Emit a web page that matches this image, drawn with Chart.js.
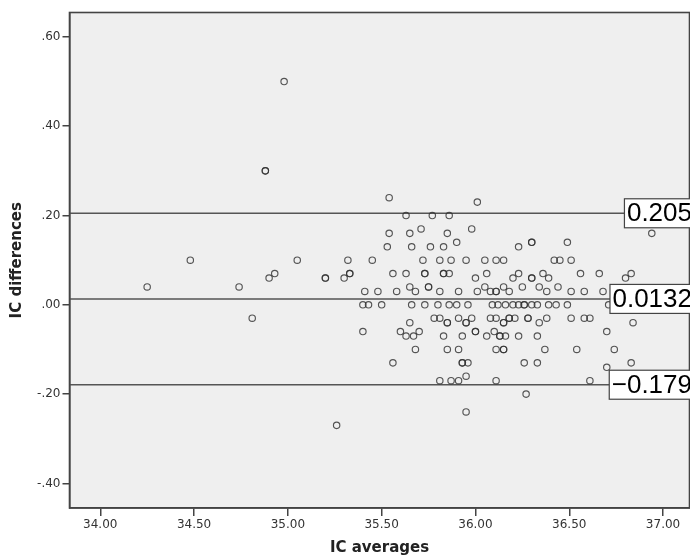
<!DOCTYPE html>
<html>
<head>
<meta charset="utf-8">
<script src="https://cdn.jsdelivr.net/npm/chart.js@4.4.1/dist/chart.umd.min.js"></script>
<style>
  html, body { margin: 0; padding: 0; background: #ffffff; }
  #wrap { width: 690px; height: 559px; position: relative; }
</style>
</head>
<body>
<div id="wrap"><canvas id="c" width="690" height="559"></canvas></div>
<script>
// ---- data ----
const icAverages = [
  34.25, 34.48, 34.74, 34.88, 34.88, 34.98, 34.81, 34.90, 34.93, 35.05,
  35.20, 35.20, 35.26, 35.30, 35.32, 35.33, 35.33, 35.40, 35.40, 35.43,
  35.41, 35.45, 35.48, 35.50, 35.54, 35.54, 35.53, 35.56, 35.56, 35.58,
  35.60, 35.63, 35.63, 35.63, 35.65, 35.65, 35.65, 35.66, 35.66, 35.67,
  35.68, 35.68, 35.70, 35.71, 35.72, 35.73, 35.73, 35.73, 35.75, 35.75,
  35.76, 35.77, 35.78, 35.80, 35.81, 35.81, 35.81, 35.81, 35.83, 35.83,
  35.83, 35.83, 35.85, 35.85, 35.85, 35.85, 35.86, 35.86, 35.86, 35.87,
  35.87, 35.90, 35.90, 35.91, 35.91, 35.91, 35.91, 35.93, 35.93, 35.93,
  35.95, 35.95, 35.95, 35.95, 35.95, 35.96, 35.96, 35.98, 35.98, 36.00,
  36.00, 36.00, 36.01, 36.01, 36.05, 36.05, 36.06, 36.06, 36.08, 36.08,
  36.09, 36.10, 36.11, 36.11, 36.11, 36.11, 36.11, 36.11, 36.12, 36.13,
  36.13, 36.15, 36.15, 36.15, 36.15, 36.15, 36.15, 36.16, 36.16, 36.18,
  36.18, 36.18, 36.20, 36.20, 36.21, 36.23, 36.23, 36.23, 36.23, 36.25,
  36.26, 36.26, 36.26, 36.27, 36.28, 36.28, 36.30, 36.30, 36.30, 36.30,
  36.30, 36.33, 36.33, 36.33, 36.34, 36.34, 36.36, 36.37, 36.38, 36.38,
  36.39, 36.39, 36.42, 36.43, 36.44, 36.45, 36.49, 36.49, 36.51, 36.51,
  36.51, 36.54, 36.56, 36.58, 36.58, 36.61, 36.61, 36.66, 36.68, 36.70,
  36.70, 36.71, 36.74, 36.80, 36.83, 36.83, 36.84, 36.94
];
const icDifferences = [
  0.04, 0.10, 0.04, 0.30, 0.30, 0.50, -0.03, 0.06, 0.07, 0.10,
  0.06, 0.06, -0.27, 0.06, 0.10, 0.07, 0.07, -0.06, 0.00, 0.00,
  0.03, 0.10, 0.03, 0.00, 0.24, 0.16, 0.13, 0.07, -0.13, 0.03,
  -0.06, 0.20, 0.07, -0.07, 0.16, 0.04, -0.04, 0.13, 0.00, -0.07,
  -0.10, 0.03, -0.06, 0.17, 0.10, 0.00, 0.07, 0.07, 0.04, 0.04,
  0.13, 0.20, -0.03, 0.00, 0.03, -0.03, -0.17, 0.10, -0.07, 0.13,
  0.07, 0.07, 0.16, -0.04, -0.04, -0.10, 0.07, 0.20, 0.00, 0.10,
  -0.17, 0.14, 0.00, 0.03, -0.03, -0.10, -0.17, -0.07, -0.13, -0.13,
  0.10, -0.04, -0.04, -0.16, -0.24, -0.13, 0.00, 0.17, -0.03, 0.06,
  -0.06, -0.06, 0.23, 0.03, 0.10, 0.04, 0.07, -0.07, 0.03, -0.03,
  0.00, -0.06, 0.03, 0.03, -0.10, -0.17, 0.10, -0.03, 0.00, -0.07,
  -0.07, 0.10, 0.04, -0.04, -0.04, -0.10, -0.10, 0.00, -0.07, 0.03,
  -0.03, -0.03, 0.06, 0.00, -0.03, 0.00, 0.13, 0.07, -0.07, 0.04,
  -0.13, 0.00, 0.00, -0.20, -0.03, -0.03, 0.14, 0.14, 0.06, 0.06,
  0.00, 0.00, -0.13, -0.07, 0.04, -0.04, 0.07, -0.10, 0.03, -0.03,
  0.06, 0.00, 0.10, 0.00, 0.04, 0.10, 0.14, 0.00, 0.03, -0.03,
  0.10, -0.10, 0.07, 0.03, -0.03, -0.03, -0.17, 0.07, 0.03, -0.06,
  -0.14, 0.00, -0.10, 0.06, 0.07, -0.13, -0.04, 0.16
];
const refLineValues = [0.205, 0.0132, -0.179];
const refLineLabels = ["0.205", "0.0132", "\u22120.179"];
const xTickValues = [34.0, 34.5, 35.0, 35.5, 36.0, 36.5, 37.0];
const xTickLabels = ["34.00", "34.50", "35.00", "35.50", "36.00", "36.50", "37.00"];
const yTickValues = [-0.4, -0.2, 0.0, 0.2, 0.4, 0.6];
const yTickLabels = ["-.40", "-.20", ".00", ".20", ".40", ".60"];
const xTitle = "IC averages";
const yTitle = "IC differences";

// ---- chart ----
const points = icAverages.map((x, i) => ({ x: x, y: icDifferences[i] }));

const plotDecor = {
  id: 'plotDecor',
  beforeDraw(chart) {
    const { ctx, chartArea: a } = chart;
    ctx.save();
    ctx.fillStyle = '#efefef';
    ctx.fillRect(a.left, a.top, a.right - a.left, a.bottom - a.top);
    ctx.restore();
  },
  beforeDatasetsDraw(chart) {
    const { ctx, chartArea: a, scales } = chart;
    ctx.save();
    ctx.strokeStyle = '#555';
    ctx.lineWidth = 1.5;
    refLineValues.forEach(v => {
      const y = scales.y.getPixelForValue(v);
      ctx.beginPath();
      ctx.moveTo(a.left, y);
      ctx.lineTo(a.right, y);
      ctx.stroke();
    });
    ctx.strokeStyle = '#444';
    ctx.lineWidth = 1.6;
    ctx.strokeRect(a.left, a.top, a.right - a.left, a.bottom - a.top);
    ctx.restore();
  },
  afterDatasetsDraw(chart) {
    const { ctx, chartArea: a, scales } = chart;
    ctx.save();
    ctx.font = '26px "Liberation Sans", Arial, sans-serif';
    ctx.textBaseline = 'middle';
    ctx.textAlign = 'right';
    refLineValues.forEach((v, i) => {
      const y = scales.y.getPixelForValue(v);
      const txt = refLineLabels[i];
      const w = ctx.measureText(txt).width;
      const textRight = a.right + 2.5;
      const left = textRight - w - 2.5;
      ctx.fillStyle = '#ffffff';
      ctx.fillRect(left, y - 14.5, textRight + 8 - left, 29);
      ctx.strokeStyle = '#444';
      ctx.lineWidth = 1.2;
      ctx.strokeRect(left, y - 14.5, textRight + 8 - left, 29);
      ctx.fillStyle = '#000';
      ctx.fillText(txt, textRight, y + 1);
    });
    ctx.restore();
  }
};

new Chart(document.getElementById('c'), {
  type: 'scatter',
  data: {
    datasets: [{
      data: points,
      pointStyle: 'circle',
      pointRadius: 3.2,
      pointHoverRadius: 3.2,
      borderWidth: 1.15,
      borderColor: 'rgba(50,50,50,0.82)',
      backgroundColor: 'rgba(0,0,0,0)'
    }]
  },
  options: {
    responsive: false,
    animation: false,
    devicePixelRatio: 1,
    layout: { autoPadding: false, padding: { top: 12.5, right: 0.5, left: 0, bottom: 0 } },
    plugins: { legend: { display: false }, tooltip: { enabled: false } },
    scales: {
      x: {
        type: 'linear',
        min: 33.836,
        max: 37.141,
        afterFit(scale) { scale.height = 51; scale.paddingLeft = 0; scale.paddingRight = 0; },
        afterBuildTicks(scale) { scale.ticks = xTickValues.map(v => ({ value: v })); },
        grid: { display: true, drawOnChartArea: false, drawTicks: true, tickLength: 8, color: '#444', lineWidth: 1.5 },
        border: { display: true, color: '#444', width: 1.6 },
        ticks: {
          autoSkip: false, maxRotation: 0, padding: 2, color: '#333',
          font: { family: '"DejaVu Sans", sans-serif', size: 12 },
          callback(value) { const i = xTickValues.findIndex(t => Math.abs(t - value) < 1e-6); return i >= 0 ? xTickLabels[i] : ''; }
        },
        title: {
          display: true, text: xTitle, color: '#222',
          font: { family: '"DejaVu Sans", sans-serif', size: 15, weight: 'bold' },
          padding: { top: 0, bottom: 2 }
        }
      },
      y: {
        type: 'linear',
        min: -0.4551,
        max: 0.6547,
        afterFit(scale) { scale.width = 69.5; scale.paddingTop = 0; scale.paddingBottom = 0; },
        afterBuildTicks(scale) { scale.ticks = yTickValues.map(v => ({ value: v })); },
        grid: { display: true, drawOnChartArea: false, drawTicks: true, tickLength: 7, color: '#444', lineWidth: 1.5 },
        border: { display: true, color: '#444', width: 1.6 },
        ticks: {
          autoSkip: false, padding: 2, color: '#333',
          font: { family: '"DejaVu Sans", sans-serif', size: 12 },
          callback(value) { const i = yTickValues.findIndex(t => Math.abs(t - value) < 1e-6); return i >= 0 ? yTickLabels[i] : ''; }
        },
        title: {
          display: true, text: yTitle, color: '#222',
          font: { family: '"DejaVu Sans", sans-serif', size: 15, weight: 'bold' },
          padding: { top: 8.5, bottom: 0 }
        }
      }
    }
  },
  plugins: [plotDecor]
});
</script>
</body>
</html>
